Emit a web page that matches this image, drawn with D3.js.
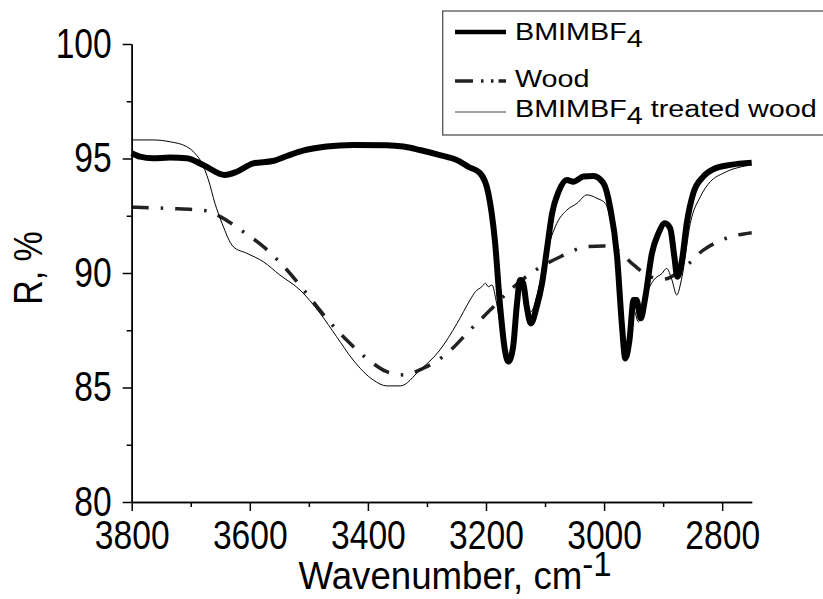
<!DOCTYPE html>
<html>
<head>
<meta charset="utf-8">
<script src="https://cdnjs.cloudflare.com/ajax/libs/d3/7.8.5/d3.min.js"></script>
<style>
body { margin: 0; background: #fff; }
svg { display: block; font-family: "Liberation Sans", Arial, sans-serif; }
</style>
</head>
<body>
<script>
var width = 823;
var height = 599;

// BMIMBF4 (thick line)
var bmimWave = [3800, 3786, 3764, 3735, 3707, 3679, 3642, 3622, 3594, 3561, 3537, 3510, 3470, 3425, 3368, 3340, 3312, 3278, 3249, 3230, 3210, 3196, 3185, 3176, 3168, 3162, 3154, 3148, 3142, 3137, 3131, 3124, 3114, 3105, 3097, 3088, 3077, 3063, 3052, 3035, 3018, 3001, 2990, 2978, 2970, 2964, 2957, 2950, 2945, 2938, 2930, 2919, 2908, 2897, 2888, 2881, 2876, 2868, 2860, 2849, 2832, 2815, 2786, 2750];
var bmimR = [95.23, 95.08, 95.01, 95.04, 95.01, 94.72, 94.28, 94.42, 94.79, 94.89, 95.11, 95.34, 95.52, 95.59, 95.58, 95.52, 95.37, 95.15, 94.93, 94.64, 94.36, 93.48, 91.44, 88.53, 86.64, 86.13, 86.78, 88.53, 89.69, 89.55, 88.53, 87.80, 88.53, 89.55, 91.0, 92.61, 93.55, 94.06, 93.99, 94.21, 94.24, 93.92, 92.90, 90.71, 87.80, 86.27, 87.07, 88.82, 88.82, 88.02, 88.97, 90.86, 91.73, 92.17, 91.95, 90.71, 89.84, 90.57, 92.17, 93.48, 94.21, 94.53, 94.72, 94.82];

// Wood (dash-dot line)
var woodWave = [3800, 3735, 3673, 3650, 3611, 3577, 3537, 3504, 3470, 3436, 3402, 3368, 3340, 3306, 3266, 3227, 3193, 3159, 3120, 3074, 3029, 3001, 2978, 2950, 2922, 2899, 2866, 2832, 2798, 2750];
var woodR = [92.87, 92.82, 92.72, 92.46, 91.80, 91.15, 90.13, 89.11, 88.02, 87.07, 86.27, 85.69, 85.55, 85.84, 86.49, 87.51, 88.38, 89.26, 90.06, 90.71, 91.15, 91.18, 91.00, 90.35, 89.84, 89.73, 90.20, 91.00, 91.47, 91.76];

// BMIMBF4 treated wood (thin line)
var treatedWave = [3800, 3764, 3735, 3707, 3693, 3681, 3670, 3659, 3647, 3628, 3605, 3577, 3549, 3515, 3481, 3453, 3425, 3391, 3368, 3345, 3312, 3278, 3249, 3227, 3218, 3207, 3201, 3196, 3190, 3182, 3168, 3162, 3154, 3148, 3142, 3137, 3131, 3124, 3114, 3105, 3097, 3091, 3080, 3063, 3046, 3029, 3012, 2998, 2987, 2978, 2970, 2964, 2957, 2950, 2942, 2930, 2916, 2902, 2894, 2885, 2877, 2868, 2854, 2837, 2820, 2798, 2750];
var treatedR = [95.81, 95.81, 95.73, 95.52, 95.23, 94.79, 94.06, 93.04, 92.17, 91.15, 90.86, 90.49, 89.91, 89.26, 88.24, 87.22, 86.20, 85.33, 85.07, 85.07, 85.76, 86.64, 87.80, 88.82, 89.18, 89.40, 89.55, 89.40, 89.48, 88.68, 86.5, 86.2, 86.9, 88.4, 89.5, 89.4, 88.6, 88.3, 89.0, 90.0, 90.9, 91.44, 92.17, 92.75, 93.04, 93.41, 93.26, 93.04, 92.02, 90.6, 88.0, 86.6, 87.3, 88.4, 87.87, 88.97, 89.69, 89.98, 90.20, 89.69, 89.04, 89.84, 92.17, 93.33, 93.99, 94.36, 94.72];

var xTicks = [3800, 3600, 3400, 3200, 3000, 2800];
var xMinor = [3700, 3500, 3300, 3100, 2900];
var yTicks = [80, 85, 90, 95, 100];
var yMinor = [82.5, 87.5, 92.5, 97.5];

var x = d3.scaleLinear().domain([3800, 2750]).range([131.7, 751.7]);
var y = d3.scaleLinear().domain([80, 100]).range([502, 44]);

var svg = d3.select('body').append('svg')
    .attr('width', width)
    .attr('height', height);

function toPoints(w, r) {
    return w.map(function(d, i) { return [d, r[i]]; });
}

var line = d3.line()
    .x(function(d) { return x(d[0]); })
    .y(function(d) { return y(d[1]); })
    .curve(d3.curveMonotoneX);

// curves
svg.append('path')
    .attr('d', line(toPoints(woodWave, woodR)))
    .attr('fill', 'none')
    .attr('stroke', '#222')
    .attr('stroke-width', 3.5)
    .attr('stroke-dasharray', '17,12,2.5,12');

svg.append('path')
    .attr('d', line(toPoints(treatedWave, treatedR)))
    .attr('fill', 'none')
    .attr('stroke', '#000')
    .attr('stroke-width', 1);

svg.append('path')
    .attr('d', line(toPoints(bmimWave, bmimR)))
    .attr('fill', 'none')
    .attr('stroke', '#000')
    .attr('stroke-width', 6)
    .attr('stroke-linejoin', 'round');

// axes
var xAxis = svg.append('g')
    .attr('transform', 'translate(0,502)')
    .call(d3.axisBottom(x).tickValues(xTicks).tickSize(9).tickPadding(9).tickSizeOuter(0).tickFormat(d3.format('d')));
svg.append('g')
    .attr('transform', 'translate(0,502)')
    .call(d3.axisBottom(x).tickValues(xMinor).tickSize(5).tickSizeOuter(0).tickFormat(''));

var yAxis = svg.append('g')
    .attr('transform', 'translate(131.7,0)')
    .call(d3.axisLeft(y).tickValues(yTicks).tickSize(9).tickSizeOuter(0));
svg.append('g')
    .attr('transform', 'translate(131.7,0)')
    .call(d3.axisLeft(y).tickValues(yMinor).tickSize(5).tickSizeOuter(0).tickFormat(''));

svg.selectAll('.domain, .tick line')
    .attr('stroke', '#000')
    .attr('stroke-width', 1.5);

xAxis.selectAll('text')
    .attr('font-size', 41)
    .attr('fill', '#000')
    .attr('transform', 'scale(0.82,1)');
yAxis.selectAll('text')
    .attr('font-size', 42)
    .attr('fill', '#000')
    .attr('x', -20 / 0.8)
    .attr('transform', 'scale(0.8,1)');

// axis titles
var xTitle = svg.append('g')
    .attr('transform', 'translate(455,589) scale(0.94,1)')
    .append('text')
    .attr('text-anchor', 'middle')
    .attr('font-size', 39);
xTitle.append('tspan').text('Wavenumber, cm');
xTitle.append('tspan').attr('dy', '-0.36em').attr('font-size', 35).text('-1');

svg.append('g')
    .attr('transform', 'translate(42,268) rotate(-90) scale(0.85,1)')
    .append('text')
    .attr('text-anchor', 'middle')
    .attr('font-size', 40)
    .text('R, %');

// legend
var legend = svg.append('g');
legend.append('rect')
    .attr('x', 442.7)
    .attr('y', 11)
    .attr('width', 400)
    .attr('height', 124)
    .attr('fill', '#fff')
    .attr('stroke', '#555')
    .attr('stroke-width', 1.3);

var legendNames = ['BMIMBF', 'Wood', 'BMIMBF'];
var legendSub = ['4', '', '4'];
var legendTail = ['', '', ' treated wood'];
var legendLineY = [32, 81, 112];
var legendTextY = [39.5, 86.5, 117];
var legendWidth = [4.5, 3.5, 1];
var legendDash = [null, '18,8,2.5,7.5,2.5,5,8', null];
var legendColor = ['#000', '#222', '#444'];

legendNames.forEach(function(name, i) {
    legend.append('line')
        .attr('x1', 455).attr('x2', 506)
        .attr('y1', legendLineY[i]).attr('y2', legendLineY[i])
        .attr('stroke', legendColor[i])
        .attr('stroke-width', legendWidth[i])
        .attr('stroke-dasharray', legendDash[i]);
    var t = legend.append('g')
        .attr('transform', 'translate(515,' + legendTextY[i] + ') scale(1.25,1)')
        .append('text')
        .attr('font-size', 23);
    t.append('tspan').text(name);
    if (legendSub[i]) {
        t.append('tspan').attr('dy', '0.32em').attr('font-size', 23).text(legendSub[i]);
        t.append('tspan').attr('dy', '-0.32em').text(legendTail[i]);
    }
});
</script>
</body>
</html>
